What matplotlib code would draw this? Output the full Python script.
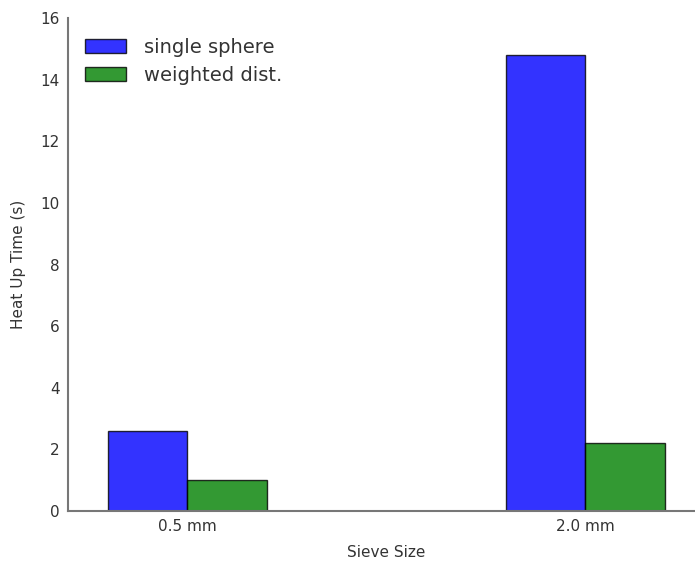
import numpy as np
import matplotlib
matplotlib.use("Agg")
import matplotlib.pyplot as plt

plt.rcParams['font.family'] = ['DejaVu Sans']

categories = ["0.5 mm", "2.0 mm"]
single_sphere = [2.6, 14.8]
weighted_dist = [1.0, 2.2]

fig = plt.figure(figsize=(6.95, 5.62), dpi=100)
ax = fig.add_axes([0.0978, 0.0907, 0.916, 0.877])

x = np.arange(len(categories))
width = 0.2
ax.bar(x - width, single_sphere, width, align='edge', color='b', alpha=0.8,
       edgecolor='black', linewidth=1.0, label='single sphere')
ax.bar(x, weighted_dist, width, align='edge', color='g', alpha=0.8,
       edgecolor='black', linewidth=1.0, label='weighted dist.')

ax.set_xlim(-0.3, 1.3)
ax.set_ylim(0, 16)
ax.set_xticks(x)
ax.set_xticklabels(categories)
ax.set_yticks(np.arange(0, 17, 2))
ax.tick_params(length=0, labelsize=11, colors='#333333', pad=6)

for side in ('top', 'right'):
    ax.spines[side].set_visible(False)
for side in ('left', 'bottom'):
    ax.spines[side].set_color('#777777')
    ax.spines[side].set_linewidth(1.5)

ax.set_xlabel('Sieve Size', fontsize=11, color='#333333', labelpad=8)
ax.set_ylabel('Heat Up Time (s)', fontsize=11, color='#333333', labelpad=10)

ax.legend(loc='upper left', bbox_to_anchor=(0.0, 0.995), frameon=False,
          fontsize=14, handlelength=2.1, handleheight=0.75,
          handletextpad=0.9, borderaxespad=0.5, labelspacing=0.45,
          labelcolor='#333333')

fig.savefig('out.png', dpi=100)
